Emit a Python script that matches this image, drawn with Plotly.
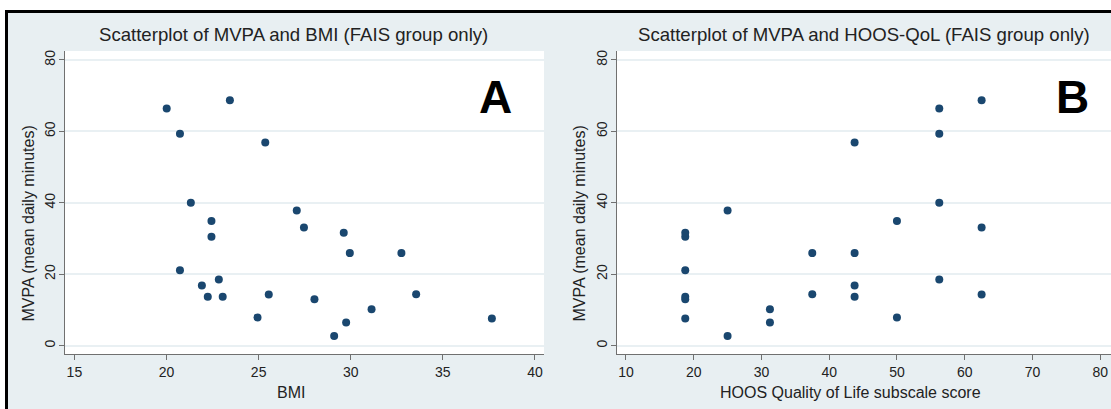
import plotly.graph_objects as go

# ---- data ----
mvpa = [66.4, 59.3, 68.7, 56.9, 40.0, 34.9, 30.5, 21.1, 16.8, 18.5, 13.7, 13.7, 7.9,
        14.3, 37.8, 33.1, 31.6, 25.9, 25.9, 13.0, 14.4, 10.2, 6.5, 2.7, 7.6]
bmi = [20.01, 20.73, 23.44, 25.36, 21.32, 22.44, 22.44, 20.73, 21.92, 22.84, 22.24, 23.05, 24.94,
       25.55, 27.07, 27.46, 29.62, 29.95, 32.75, 28.03, 33.55, 31.13, 29.75, 29.10, 37.66]
hoos = [56.25, 56.25, 62.5, 43.75, 56.25, 50.0, 18.75, 18.75, 43.75, 56.25, 18.75, 43.75, 50.0,
        62.5, 25.0, 62.5, 18.75, 37.5, 43.75, 18.75, 37.5, 31.25, 31.25, 25.0, 18.75]

y_ticks = [0, 20, 40, 60, 80]
bmi_ticks = [15, 20, 25, 30, 35, 40]
hoos_ticks = [10, 20, 30, 40, 50, 60, 70, 80]

title_a = "Scatterplot of MVPA and BMI (FAIS group only)"
title_b = "Scatterplot of MVPA and HOOS-QoL (FAIS group only)"
xtitle_a = "BMI"
xtitle_b = "HOOS Quality of Life subscale score"
ytitle = "MVPA (mean daily minutes)"

W, H = 1111, 409
NAVY = "#1a476f"
BG = "#e8eff2"
GRID = "#e9f0f3"
AXC = "#707070"
FONT = "Liberation Sans, Arial, sans-serif"


def px(x):
    return x / W


def py(y):
    return 1 - y / H


fig = go.Figure()
fig.add_trace(go.Scatter(x=bmi, y=mvpa, mode="markers", xaxis="x", yaxis="y",
                         marker=dict(color=NAVY, size=8), showlegend=False))
fig.add_trace(go.Scatter(x=hoos, y=mvpa, mode="markers", xaxis="x2", yaxis="y2",
                         marker=dict(color=NAVY, size=8), showlegend=False))

ydom = [py(354), py(51)]
common_y = dict(range=[-2.35, 82.5], tickvals=y_ticks, tickangle=-90, showgrid=True,
                gridcolor=GRID, gridwidth=1.5, zeroline=False, showline=True, linecolor=AXC,
                linewidth=1.2, ticks="outside", ticklen=5, tickcolor=AXC, domain=ydom,
                ticklabelstandoff=-2,
                tickfont=dict(size=14, color="#222", family=FONT))
common_x = dict(showgrid=False, zeroline=False, showline=True, linecolor=AXC, linewidth=1.2,
                ticks="outside", ticklen=5, tickcolor=AXC,
                tickfont=dict(size=14, color="#222", family=FONT))

fig.update_layout(
    width=W, height=H,
    margin=dict(l=0, r=0, t=0, b=0, pad=0, autoexpand=False),
    paper_bgcolor="white",
    plot_bgcolor="white",
    font=dict(family=FONT, color="#222"),
    xaxis=dict(domain=[px(65), px(544)], range=[14.49, 40.49], tickvals=bmi_ticks,
               anchor="y", **common_x),
    yaxis=dict(anchor="x", **common_y),
    xaxis2=dict(domain=[px(616.7), 1.0], range=[8.63, 81.6], tickvals=hoos_ticks,
                anchor="y2", **common_x),
    yaxis2=dict(anchor="x2", **common_y),
    shapes=[
        dict(type="rect", xref="paper", yref="paper", x0=px(6.5), x1=1.02, y0=-0.03, y1=py(11.5),
             fillcolor=BG, line=dict(color="black", width=3), layer="below"),
        dict(type="rect", xref="x domain", yref="y domain", x0=0, x1=1, y0=0, y1=1,
             fillcolor="white", line=dict(width=0), layer="below"),
        dict(type="rect", xref="x2 domain", yref="y2 domain", x0=0, x1=1, y0=0, y1=1,
             fillcolor="white", line=dict(width=0), layer="below"),
    ],
)


def note(text, x, y, size, angle=0, color="#222"):
    return dict(text=text, x=px(x), y=py(y), xref="paper", yref="paper",
                xanchor="center", yanchor="middle", textangle=angle,
                showarrow=False, font=dict(size=size, color=color, family=FONT))


ann = [
    note(title_a, 293, 34, 18.6),
    note(title_b, 863.5, 34, 18.6),
    note(xtitle_a, 291, 392, 16),
    note(xtitle_b, 850, 392, 16),
    note(ytitle, 28, 223.5, 16, angle=-90),
    note(ytitle, 579, 223.5, 16, angle=-90),
    note("<b>A</b>", 495, 97, 46, color="black"),
    note("<b>B</b>", 1072, 97, 46, color="black"),
]
fig.update_layout(annotations=ann)

fig.write_html("out.html",
               config={"displayModeBar": False},
               post_script="document.body.style.margin='0px';document.body.style.overflow='hidden';")
